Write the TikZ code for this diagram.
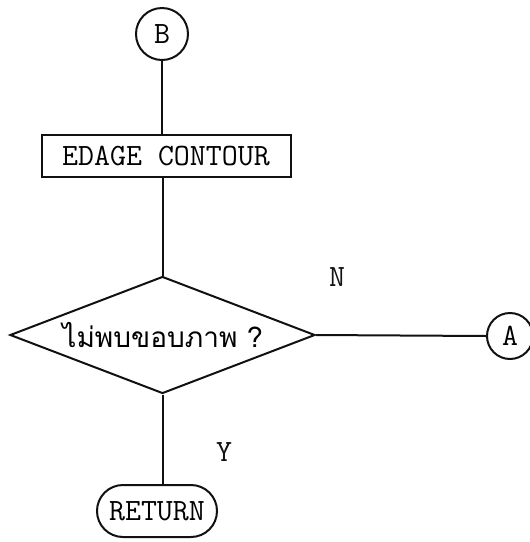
\documentclass[tikz,border=0pt]{standalone}
\usepackage{fontspec}
\usepackage{tikz}
\usetikzlibrary{positioning,shapes.geometric,shapes.misc}
\newfontfamily\thaifont[Script=Thai]{Loma}
\definecolor{Ink}{HTML}{111111}
\newcommand{\chartfont}{\fontsize{15.5pt}{18pt}\selectfont\ttfamily}
\tikzset{
  flowline/.style={draw=Ink, line width=1pt},
  connector/.style={circle, flowline, inner sep=0pt, minimum size=25pt, font=\chartfont},
  procbox/.style={rectangle, flowline, inner sep=0pt, minimum width=124.5pt, minimum height=21pt, font=\chartfont},
  decision/.style={diamond, flowline, aspect=2.6, inner sep=0pt, minimum width=152.5pt, minimum height=58.5pt, font=\fontsize{14pt}{17pt}\selectfont\thaifont},
  terminal/.style={rounded rectangle, flowline, inner sep=0pt, minimum width=60pt, minimum height=26pt, font=\chartfont},
  branch/.style={font=\chartfont, text=Ink}
}

\begin{document}
\begin{tikzpicture}[x=0.5pt, y=-0.5pt]
        \useasboundingbox (0,0) rectangle (530,542);

        % entry point and contour step
        \node[connector, minimum size=26pt] (entryB) at (162,34) {B};
        \node[procbox] (contour) at (166,156) {EDAGE CONTOUR};

        % test for a missing edge
        \node[decision] (noedge) at (162.5,335) {ไม่พบขอบภาพ ?};
        \node[connector, minimum size=23pt] (exitA) at (510,336) {A};
        \node[terminal] (ret) at (157,511) {RETURN};

        \node[branch] (labN) at (337,277) {N};
        \node[branch] (labY) at (224,452) {Y};

        \draw[flowline] (entryB.south) -- (entryB.south |- contour.north);
        \draw[flowline] (noedge.north |- contour.south) -- (noedge.north);
        \draw[flowline] (noedge.east) -- (exitA.west);
        \draw[flowline] (noedge.south) -- (noedge.south |- ret.north);
      \end{tikzpicture}
\end{document}
